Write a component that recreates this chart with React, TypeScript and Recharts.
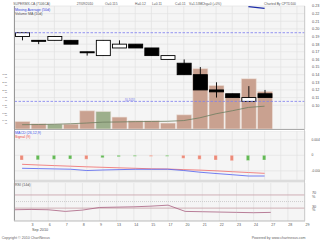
import React from 'react';
import { ComposedChart, Bar, Line, XAxis, YAxis, CartesianGrid, ReferenceLine, Cell } from 'recharts';

// ---- data ----
const dates = ['2', '3', '6', '7', '8', '9', '13', '14', '15', '17', '20', '21', '22', '23', '24', '27', '28', '29'];
const opens = [0.19, 0.185, 0.185, 0.185, 0.17, 0.165, 0.175, 0.18, 0.175, 0.16, 0.155, 0.14, 0.12, 0.115, 0.105, 0.115];
const highs = [0.195, 0.185, 0.19, 0.185, 0.17, 0.185, 0.185, 0.18, 0.175, 0.165, 0.16, 0.15, 0.13, 0.115, 0.125, 0.12];
const lows = [0.185, 0.18, 0.185, 0.18, 0.165, 0.165, 0.175, 0.175, 0.165, 0.16, 0.14, 0.12, 0.11, 0.11, 0.105, 0.11];
const closes = [0.195, 0.185, 0.19, 0.18, 0.17, 0.185, 0.18, 0.175, 0.165, 0.165, 0.14, 0.12, 0.1175, 0.11, 0.11, 0.11];
const volumes = [0.43, 0.30, 0.28, 0.28, 1.04, 1.0, 0.68, 0.47, 0.47, 0.34, 0.81, 3.44, 2.48, 1.8, 2.87, 2.14]; // millions
const volMA10 = [0.245, 0.256, 0.27, 0.3, 0.34, 0.39, 0.4, 0.42, 0.43, 0.44, 0.48, 0.64, 0.87, 1.04, 1.23, 1.3];
const priceMA50 = [null, null, null, null, null, null, null, null, null, null, null, null, null, null, 0.2291, 0.227];
const macdLine = [-0.00335, -0.00343, -0.00351, -0.00359, -0.00392, -0.00379, -0.00369, -0.00361, -0.00361, -0.00359, -0.00392, -0.00436, -0.0047, -0.00501, -0.00534, -0.00534];
const signalLine = [-0.00232, -0.0025, -0.00266, -0.00281, -0.00297, -0.0031, -0.00323, -0.00335, -0.00348, -0.00354, -0.00369, -0.00382, -0.004, -0.00423, -0.00444, -0.00465];
const macdHist = [-0.00121, -0.00116, -0.00103, -0.00095, -0.00101, -0.00062, -0.00036, -0.00026, -0.00028, -0.00026, -0.00077, -0.00103, -0.00121, -0.00139, -0.00134, -0.00121];
const rsi14 = [25, 26, 25, 20, 24, 32, 33, 34, 36, 39, 20, 19, 18, 17, 16, 17];

const priceTicks = [0.1, 0.11, 0.12, 0.13, 0.14, 0.15, 0.16, 0.17, 0.18, 0.19, 0.2, 0.21, 0.22, 0.23];
const volTicks = [0.43, 0.86, 1.3, 1.73, 2.16, 2.6, 3.03];
const macdTicks = [-0.004, 0, 0.004];
const rsiTicks = [30, 70];
const supportLevel = 0.105;
const resistanceLevel = 0.195;

const header = [
  { t: 'SUPERMX-CA (7106CA)', x: 13.3 },
  { t: '27/09/2010', x: 76.7 },
  { t: 'O=0.115', x: 105 },
  { t: 'H=0.12', x: 135 },
  { t: 'L=0.11', x: 152 },
  { t: 'C=0.11', x: 175 },
  { t: 'V=1.53M', x: 189 },
  { t: 'Chg=0 (+0%)', x: 201.7 },
  { t: 'Charted By CPTD100', x: 264 },
];

const rows = dates.map((date, i) => ({
  date,
  open: opens[i] ?? null,
  high: highs[i] ?? null,
  low: lows[i] ?? null,
  close: closes[i] ?? null,
  volume: volumes[i] ?? null,
  volMA: volMA10[i] ?? null,
  ma50: priceMA50[i] ?? null,
  macd: macdLine[i] ?? null,
  signal: signalLine[i] ?? null,
  hist: macdHist[i] ?? null,
  rsi: rsi14[i] ?? null,
}));

const FONT = '"Liberation Sans", Arial, sans-serif';
const BG = '#f5f5f5';
const GRID = '#e2e2e2';

const Candle = (props: any) => {
  const { x, y, width, height, payload } = props;
  if (!payload || payload.open == null || x == null || y == null) return null;
  const top = Math.min(y, y + height);
  const h = Math.abs(height);
  const { open, close, high, low } = payload;
  const k = high > low ? h / (high - low) : 0;
  const yo = top + (high - open) * k;
  const yc = top + (high - close) * k;
  const bt = Math.min(yo, yc);
  const bh = Math.max(Math.abs(yo - yc), 1);
  const cx = x + width / 2;
  const up = close > open;
  return (
    <g>
      <line x1={cx} x2={cx} y1={top} y2={top + h} stroke="#000" strokeWidth={0.9} />
      <rect x={x + 0.5} y={bt} width={width - 1} height={bh} fill={up ? '#fff' : '#000'} stroke="#000" strokeWidth={0.9} />
    </g>
  );
};

const XTick = (props: any) => {
  const { x, y, payload, index } = props;
  return (
    <g>
      <text x={x + 0.4} y={y + 5.4} fontSize={3.6} fill="#555" fontFamily={FONT}>{payload.value}</text>
      {index === 0 && (
        <text x={x + 0.8} y={y + 10.3} fontSize={3.8} fill="#555" fontFamily={FONT}>Sep 2010</text>
      )}
    </g>
  );
};

const rightTick = { fontSize: 3.8, fill: '#555', fontFamily: FONT, textAnchor: 'start' } as any;

export default function App() {
  return (
    <div style={{ position: 'absolute', left: 0, top: 0, width: 320, height: 240, background: '#fff', overflow: 'hidden' }}>
      {/* price + volume */}
      <div style={{ position: 'absolute', left: 0, top: 0 }}>
        <ComposedChart width={320} height={129} data={rows} margin={{ top: 6, right: 0, bottom: 0, left: 0 }}>
          <CartesianGrid xAxisId="a" yAxisId="price" fill={BG} stroke={GRID} strokeWidth={0.7} />
          <XAxis xAxisId="a" dataKey="date" hide ticks={dates.slice(1)} interval={0} />
          <XAxis xAxisId="b" dataKey="date" hide />
          <YAxis yAxisId="vol" orientation="left" width={14} domain={[0, 7.01]} ticks={volTicks} interval={0}
            tickFormatter={(v: number) => `${v.toFixed(2)} M`} axisLine={false} tickLine={false} tickMargin={1}
            tick={{ fontSize: 2.5, fill: '#555', fontFamily: FONT }} />
          <YAxis yAxisId="price" orientation="right" width={15} domain={[0.0688, 0.23]} ticks={priceTicks} interval={0}
            allowDataOverflow tickFormatter={(v: number) => v.toFixed(2)} axisLine={false} tickLine={false} tickMargin={1}
            tick={rightTick} />
          <Bar xAxisId="b" yAxisId="vol" dataKey="volume" barSize={15} isAnimationActive={false} stroke="#efe2dc" strokeWidth={0.6}>
            {rows.map((r, i) => (
              <Cell key={i} fill={i > 0 && r.close != null && rows[i - 1].close != null && r.close > (rows[i - 1].close as number) ? '#9daf8c' : '#c9a190'} />
            ))}
          </Bar>
          <Line xAxisId="a" yAxisId="vol" dataKey="volMA" stroke="#6d7d60" strokeWidth={0.8} dot={false} isAnimationActive={false} />
          <ReferenceLine xAxisId="a" yAxisId="price" y={resistanceLevel} stroke="#7c7cf0" strokeWidth={0.8} strokeDasharray="2.5 1.5" />
          <ReferenceLine xAxisId="a" yAxisId="price" y={supportLevel} stroke="#7c7cf0" strokeWidth={0.8} strokeDasharray="2.5 1.5" />
          <Bar xAxisId="a" yAxisId="price" dataKey={(d: any) => (d.low == null ? null : [d.low, d.high])} barSize={15}
            shape={Candle} isAnimationActive={false} />
          <Line xAxisId="a" yAxisId="price" dataKey="ma50" stroke="#1c2ca8" strokeWidth={1.2} dot={false} isAnimationActive={false} />
        </ComposedChart>
      </div>

      {/* MACD */}
      <div style={{ position: 'absolute', left: 0, top: 131 }}>
        <ComposedChart width={320} height={49} data={rows} margin={{ top: 0, right: 0, bottom: 0, left: 14 }}>
          <CartesianGrid fill={BG} stroke={GRID} strokeWidth={0.7} />
          <XAxis dataKey="date" hide ticks={dates.slice(1)} interval={0} />
          <YAxis orientation="right" width={15} domain={[-0.00637, 0.00627]} ticks={macdTicks} interval={0}
            tickFormatter={(v: number) => (v === 0 ? '0' : v.toFixed(3))} axisLine={false} tickLine={false} tickMargin={0.5}
            tick={{ ...rightTick, fontSize: 3.3 }} />
          <Bar dataKey="hist" barSize={3.3} isAnimationActive={false} stroke="#fff" strokeWidth={0.3}>
            {rows.map((r, i) => (
              <Cell key={i} fill={i > 0 && r.hist != null && rows[i - 1].hist != null && r.hist > (rows[i - 1].hist as number) ? '#64b956' : '#ec8a78'} />
            ))}
          </Bar>
          <Line dataKey="signal" stroke="#f06868" strokeWidth={0.8} dot={false} isAnimationActive={false} />
          <Line dataKey="macd" stroke="#5060f0" strokeWidth={0.8} dot={false} isAnimationActive={false} />
        </ComposedChart>
      </div>

      {/* RSI */}
      <div style={{ position: 'absolute', left: 0, top: 182.5 }}>
        <ComposedChart width={320} height={57.5} data={rows} margin={{ top: 0, right: 0, bottom: 0, left: 14 }}>
          <CartesianGrid fill={BG} stroke={GRID} strokeWidth={0.7} horizontal={false} />
          <XAxis dataKey="date" ticks={dates.slice(1)} interval={0} height={19.5} axisLine={{ stroke: '#aaa', strokeWidth: 0.8 }}
            tickLine={false} tickSize={0} tickMargin={0} tick={<XTick />} />
          <YAxis orientation="right" width={15} domain={[-9.2, 106.4]} ticks={rsiTicks} interval={0}
            tickFormatter={(v: number) => `${v} %`} axisLine={false} tickLine={false} tickMargin={1} tick={rightTick} />
          <ReferenceLine y={70} stroke="#c79ea6" strokeWidth={0.8} />
          <ReferenceLine y={30} stroke="#c79ea6" strokeWidth={0.8} />
          <ReferenceLine y={50} stroke="#c4c4c4" strokeWidth={0.8} strokeDasharray="1 1" />
          <Line dataKey="rsi" stroke="#a85f80" strokeWidth={0.8} dot={false} isAnimationActive={false} />
        </ComposedChart>
      </div>

      {/* overlay texts and frame */}
      <svg width={320} height={240} style={{ position: 'absolute', left: 0, top: 0, pointerEvents: 'none' }} fontFamily={FONT}>
        <line x1={14} x2={305} y1={129.5} y2={129.5} stroke="#aaa" strokeWidth={1} />
        <rect x={14} y={180} width={291} height={2.5} fill="#dcdcdc" />
        <line x1={14.5} x2={14.5} y1={6} y2={220.5} stroke="#999" strokeWidth={1} />
        <line x1={304.5} x2={304.5} y1={6} y2={220.5} stroke="#c8c8c8" strokeWidth={0.8} />
        {header.map((h) => (
          <text key={h.t} x={h.x} y={5.2} fontSize={3.3} fill="#555">{h.t}</text>
        ))}
        <text x={15} y={10.8} fontSize={3.6} fill="#3344dd">Moving Average (50d)</text>
        <text x={15} y={15} fontSize={3.6} fill="#555">Volume MA (10d)</text>
        <text x={125} y={100.8} fontSize={3.2} fill="#6a6ae8">[0.105]</text>
        <text x={15} y={134.3} fontSize={3.6} fill="#4455ee">MACD (26,12,9)</text>
        <text x={15} y={138.4} fontSize={3.6} fill="#ee4444">Signal (9)</text>
        <text x={15} y={185.6} fontSize={3.6} fill="#555">RSI (14d)</text>
        <text x={1.7} y={239} fontSize={3.6} fill="#666">Copyright © 2010 ChartNexus</text>
        <text x={251.7} y={239} fontSize={3.6} fill="#666">Powered by www.chartnexus.com</text>
      </svg>
    </div>
  );
}
